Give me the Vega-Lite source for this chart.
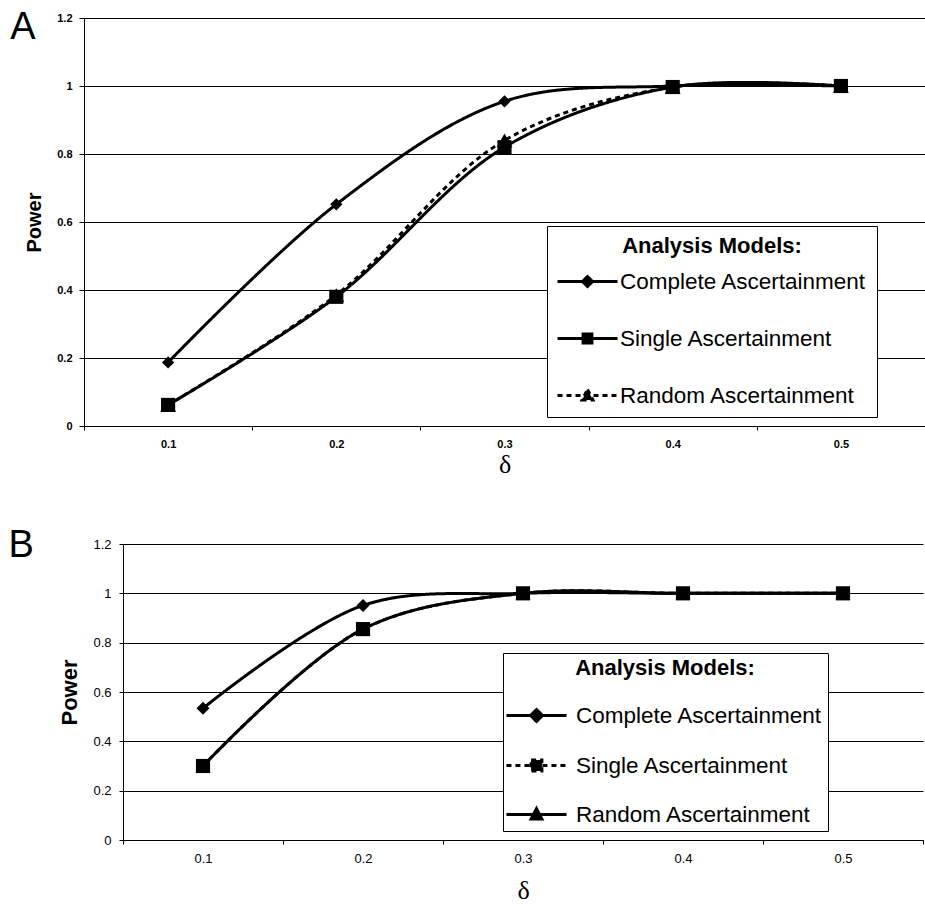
{
  "$schema": "https://vega.github.io/schema/vega-lite/v6.json",
  "background": "white",
  "padding": {"left": 8, "top": 9, "right": 0, "bottom": 0},
  "spacing": 50,
  "config": {
    "font": "Liberation Sans",
    "view": {"stroke": null},
    "axis": {"domainColor": "black", "tickColor": "black", "gridColor": "black", "labelColor": "black", "titleColor": "black"},
    "legend": {"symbolFillColor": "black", "symbolStrokeColor": "black"}
  },
  "resolve": {
    "scale": {"x": "independent", "y": "independent", "strokeDash": "independent"},
    "legend": {"strokeDash": "independent"}
  },
  "vconcat": [
    {
      "width": 841,
      "height": 408,
      "title": {"text": "A", "orient": "left", "anchor": "end", "angle": 0, "align": "left", "baseline": "top", "fontSize": 38, "fontWeight": "normal", "offset": -11, "dy": -3},
      "data": {"values": [
        {"model": "Complete Ascertainment", "delta": "0.1", "power": 0.187},
        {"model": "Complete Ascertainment", "delta": "0.2", "power": 0.652},
        {"model": "Complete Ascertainment", "delta": "0.3", "power": 0.955},
        {"model": "Complete Ascertainment", "delta": "0.4", "power": 1.0},
        {"model": "Complete Ascertainment", "delta": "0.5", "power": 1.0},
        {"model": "Single Ascertainment", "delta": "0.1", "power": 0.062},
        {"model": "Single Ascertainment", "delta": "0.2", "power": 0.38},
        {"model": "Single Ascertainment", "delta": "0.3", "power": 0.82},
        {"model": "Single Ascertainment", "delta": "0.4", "power": 0.997},
        {"model": "Single Ascertainment", "delta": "0.5", "power": 1.0},
        {"model": "Random Ascertainment", "delta": "0.1", "power": 0.062},
        {"model": "Random Ascertainment", "delta": "0.2", "power": 0.385},
        {"model": "Random Ascertainment", "delta": "0.3", "power": 0.84},
        {"model": "Random Ascertainment", "delta": "0.4", "power": 0.997},
        {"model": "Random Ascertainment", "delta": "0.5", "power": 1.0}
      ]},
      "encoding": {
        "x": {
          "field": "delta", "type": "ordinal", "sort": ["0.1", "0.2", "0.3", "0.4", "0.5"], "bandPosition": 0.5,
          "scale": {"type": "band", "paddingInner": 0, "paddingOuter": 0},
          "axis": {"title": "δ", "labelAngle": 0, "tickBand": "extent", "titleFont": "Liberation Serif", "titleFontSize": 26, "titleFontWeight": "normal", "labelFontSize": 11, "labelFontWeight": "bold", "tickSize": 4, "labelPadding": 8, "titlePadding": 2}
        },
        "y": {
          "field": "power", "type": "quantitative",
          "scale": {"domain": [0, 1.2]},
          "axis": {"title": "Power", "values": [0, 0.2, 0.4, 0.6, 0.8, 1, 1.2], "format": "~g", "grid": true, "gridWidth": 1, "titleFontSize": 20, "titleFontWeight": "bold", "labelFontSize": 11, "labelFontWeight": "bold", "tickSize": 5, "labelPadding": 7, "titlePadding": 12}
        }
      },
      "layer": [
        {
          "mark": {"type": "line", "interpolate": "catmull-rom", "color": "black", "strokeWidth": 3},
          "encoding": {
            "strokeDash": {
              "field": "model", "type": "nominal",
              "scale": {"domain": ["Complete Ascertainment", "Single Ascertainment", "Random Ascertainment"], "range": [[1, 0], [1, 0], [5, 4]]},
              "legend": {
                "title": "Analysis Models:", "orient": "none", "legendX": 463, "legendY": 208,
                "titleFontSize": 22, "titleFontWeight": "bold", "titleAnchor": "middle", "titlePadding": 2,
                "labelFontSize": 22.5, "labelOffset": 11, "labelLimit": 400,
                "symbolSize": 1600, "symbolStrokeWidth": 3, "symbolOffset": 9, "rowPadding": 24, "padding": 10,
                "strokeColor": "black", "fillColor": "white",
                "symbolType": {"expr": "datum.value === 'Complete Ascertainment' ? 'M-1.5,0H1.5M0,-0.25L0.25,0L0,0.25L-0.25,0Z' : datum.value === 'Single Ascertainment' ? 'M-1.5,0H1.5M-0.22,-0.22H0.22V0.22H-0.22Z' : 'M-1.5,0H1.5M0,-0.3L0.27,0.22H-0.27Z'"}
              }
            }
          }
        },
        {
          "transform": [{"filter": "datum.model === 'Complete Ascertainment'"}],
          "mark": {"type": "point", "shape": "diamond", "size": 150, "filled": true, "color": "black", "opacity": 1}
        },
        {
          "transform": [{"filter": "datum.model === 'Single Ascertainment'"}],
          "mark": {"type": "point", "shape": "square", "size": 200, "filled": true, "color": "black", "opacity": 1}
        },
        {
          "transform": [{"filter": "datum.model === 'Random Ascertainment'"}],
          "mark": {"type": "point", "shape": "triangle-up", "size": 250, "filled": true, "color": "black", "opacity": 1}
        }
      ]
    },
    {
      "width": 839,
      "height": 296,
      "title": {"text": "B", "orient": "left", "anchor": "end", "angle": 0, "align": "left", "baseline": "top", "fontSize": 38, "fontWeight": "normal", "offset": 25, "dy": -11},
      "data": {"values": [
        {"model": "Complete Ascertainment", "delta": "0.1", "power": 0.534},
        {"model": "Complete Ascertainment", "delta": "0.2", "power": 0.951},
        {"model": "Complete Ascertainment", "delta": "0.3", "power": 1.0},
        {"model": "Complete Ascertainment", "delta": "0.4", "power": 1.0},
        {"model": "Complete Ascertainment", "delta": "0.5", "power": 1.0},
        {"model": "Single Ascertainment", "delta": "0.1", "power": 0.3},
        {"model": "Single Ascertainment", "delta": "0.2", "power": 0.855},
        {"model": "Single Ascertainment", "delta": "0.3", "power": 1.0},
        {"model": "Single Ascertainment", "delta": "0.4", "power": 1.0},
        {"model": "Single Ascertainment", "delta": "0.5", "power": 1.0},
        {"model": "Random Ascertainment", "delta": "0.1", "power": 0.3},
        {"model": "Random Ascertainment", "delta": "0.2", "power": 0.855},
        {"model": "Random Ascertainment", "delta": "0.3", "power": 1.0},
        {"model": "Random Ascertainment", "delta": "0.4", "power": 1.0},
        {"model": "Random Ascertainment", "delta": "0.5", "power": 1.0}
      ]},
      "encoding": {
        "x": {
          "field": "delta", "type": "ordinal", "sort": ["0.1", "0.2", "0.3", "0.4", "0.5"], "bandPosition": 0.5,
          "scale": {"type": "band", "paddingInner": 0, "paddingOuter": 0, "range": [39, 839]},
          "axis": {"title": "δ", "labelAngle": 0, "tickBand": "extent", "titleFont": "Liberation Serif", "titleFontSize": 26, "titleFontWeight": "normal", "labelFontSize": 13, "tickSize": 4, "labelPadding": 8, "titlePadding": 12}
        },
        "y": {
          "field": "power", "type": "quantitative",
          "scale": {"domain": [0, 1.2]},
          "axis": {"title": "Power", "offset": -39, "values": [0, 0.2, 0.4, 0.6, 0.8, 1, 1.2], "format": "~g", "grid": true, "gridWidth": 1, "titleFontSize": 22, "titleFontWeight": "bold", "labelFontSize": 13, "tickSize": 4, "labelPadding": 8, "titlePadding": 11}
        }
      },
      "layer": [
        {
          "mark": {"type": "line", "interpolate": "catmull-rom", "color": "black", "strokeWidth": 3},
          "encoding": {
            "strokeDash": {
              "field": "model", "type": "nominal",
              "scale": {"domain": ["Complete Ascertainment", "Single Ascertainment", "Random Ascertainment"], "range": [[1, 0], [5, 4], [1, 0]]},
              "legend": {
                "title": "Analysis Models:", "orient": "none", "legendX": 419, "legendY": 109,
                "titleFontSize": 22, "titleFontWeight": "bold", "titleAnchor": "middle", "titlePadding": 16,
                "labelFontSize": 22.5, "labelOffset": 20, "labelLimit": 400,
                "symbolSize": 1296, "symbolStrokeWidth": 3, "symbolOffset": 9, "rowPadding": 18, "padding": 5,
                "strokeColor": "black", "fillColor": "white",
                "symbolType": {"expr": "datum.value === 'Complete Ascertainment' ? 'M-1.67,0H1.67M0,-0.33L0.33,0L0,0.33L-0.33,0Z' : datum.value === 'Single Ascertainment' ? 'M-1.67,0H1.67M-0.3,-0.3H0.3V0.3H-0.3Z' : 'M-1.67,0H1.67M0,-0.33L0.3,0.25H-0.3Z'"}
              }
            }
          }
        },
        {
          "transform": [{"filter": "datum.model === 'Complete Ascertainment'"}],
          "mark": {"type": "point", "shape": "diamond", "size": 170, "filled": true, "color": "black", "opacity": 1}
        },
        {
          "transform": [{"filter": "datum.model === 'Random Ascertainment'"}],
          "mark": {"type": "point", "shape": "triangle-up", "size": 220, "filled": true, "color": "black", "opacity": 1}
        },
        {
          "transform": [{"filter": "datum.model === 'Single Ascertainment'"}],
          "mark": {"type": "point", "shape": "square", "size": 200, "filled": true, "color": "black", "opacity": 1}
        }
      ]
    }
  ]
}
